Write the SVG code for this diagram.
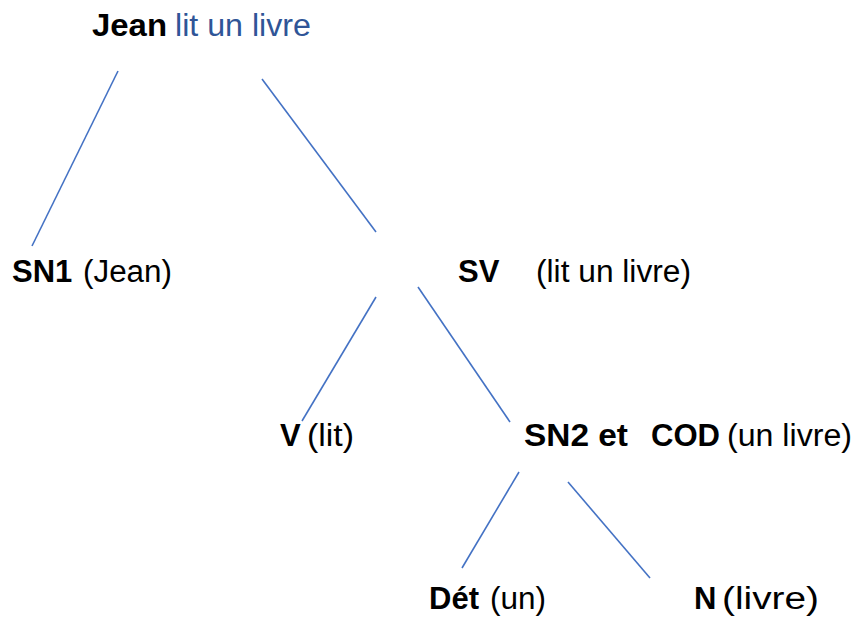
<svg xmlns="http://www.w3.org/2000/svg" width="856" height="617" viewBox="0 0 856 617">
<style>
text{font-family:"Liberation Sans",Arial,sans-serif;font-size:31px;fill:#000}
.b{font-weight:bold}
.blue{fill:#2F5597}
.c line{stroke:#4472C4;stroke-width:1.6;fill:none}
</style>
<rect width="856" height="617" fill="#fff"/>
<g id="root">
<text class="b" x="92" y="36" textLength="75" lengthAdjust="spacingAndGlyphs">Jean</text>
<text class="blue" x="175" y="36" textLength="136" lengthAdjust="spacingAndGlyphs">lit un livre</text>
</g>
<g id="sn1">
<text class="b" x="12" y="282">SN1</text>
<text x="83" y="282" textLength="89" lengthAdjust="spacingAndGlyphs">(Jean)</text>
</g>
<g id="sv">
<text class="b" x="458" y="282">SV</text>
<text x="536" y="282" textLength="155" lengthAdjust="spacingAndGlyphs">(lit un livre)</text>
</g>
<g id="v">
<text class="b" x="280" y="446">V</text>
<text x="307" y="446" textLength="47" lengthAdjust="spacingAndGlyphs">(lit)</text>
</g>
<g id="sn2">
<text class="b" x="524" y="446" textLength="104" lengthAdjust="spacingAndGlyphs">SN2 et</text>
<text class="b" x="651" y="446" textLength="69" lengthAdjust="spacingAndGlyphs">COD</text>
<text x="727" y="446" textLength="125" lengthAdjust="spacingAndGlyphs">(un livre)</text>
</g>
<g id="det">
<text class="b" x="429" y="609">Dét</text>
<text x="490" y="609" textLength="56" lengthAdjust="spacingAndGlyphs">(un)</text>
</g>
<g id="n">
<text class="b" x="694" y="609">N</text>
<text x="722" y="609" textLength="97" lengthAdjust="spacingAndGlyphs">(livre)</text>
</g>
<g class="c" id="connectors">
<line x1="118" y1="71" x2="32" y2="246"/>
<line x1="262" y1="79" x2="376" y2="232"/>
<line x1="376" y1="297" x2="302" y2="421"/>
<line x1="418" y1="287" x2="510" y2="422"/>
<line x1="519" y1="472" x2="462" y2="568"/>
<line x1="568" y1="482" x2="650" y2="578"/>
</g>
</svg>
